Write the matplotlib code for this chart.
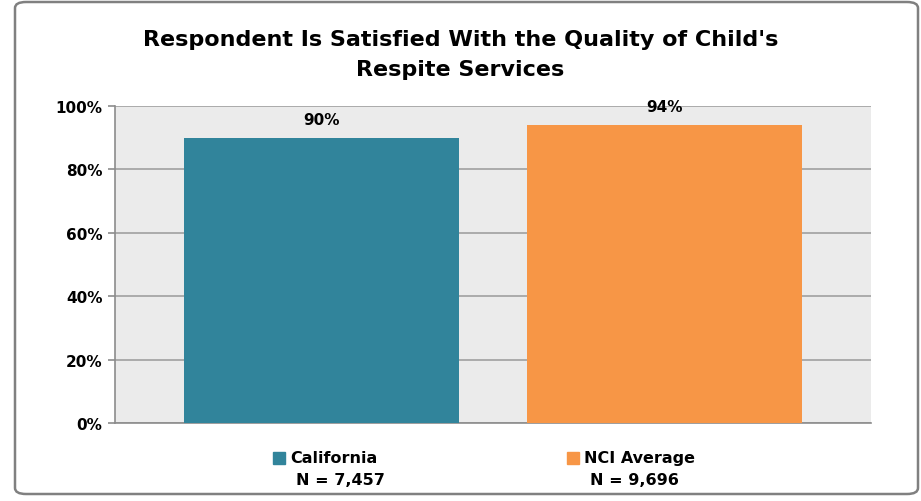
import matplotlib.pyplot as plt
from matplotlib.patches import FancyBboxPatch, Rectangle
from matplotlib.ticker import PercentFormatter

# Share of respondents satisfied with respite services
groups = ['California', 'NCI Average']
sample_sizes = ['N = 7,457', 'N = 9,696']
satisfied_pct = [90, 94]
bar_colors = ['#31849b', '#f79646']
y_ticks = [0, 20, 40, 60, 80, 100]

fig = plt.figure(figsize=(9.21, 5.02), dpi=100)
W, H = 921, 502

# rounded frame round the whole chart
frame = FancyBboxPatch((15 / W, 7 / H), 903 / W, 492 / H,
                       boxstyle='round,pad=0,rounding_size=0.012',
                       transform=fig.transFigure, fill=False,
                       edgecolor='#808080', linewidth=1.8)
fig.patches.append(frame)

ax = fig.add_axes([115 / W, 1 - 424 / H, 756 / W, 317 / H])
ax.set_facecolor('#ebebeb')

x = list(range(len(groups)))
bars = ax.bar(x, satisfied_pct, width=0.8, color=bar_colors, zorder=3)
for xi, v in zip(x, satisfied_pct):
    ax.annotate(f'{v}%', (xi, v), xytext=(0, 13), textcoords='offset points',
                ha='center', va='center', fontsize=11, fontweight='bold',
                zorder=4)

ax.set_xlim(-0.6, 1.6)
ax.set_ylim(0, 100)
ax.set_yticks(y_ticks)
ax.yaxis.set_major_formatter(PercentFormatter(decimals=0))
ax.set_xticks([])
ax.grid(axis='y', color='#a6a6a6', linewidth=1.3, zorder=1)
for side in ('top', 'right'):
    ax.spines[side].set_visible(False)
for side in ('left', 'bottom'):
    ax.spines[side].set_color('#8c8c8c')
    ax.spines[side].set_linewidth(1.2)
ax.tick_params(axis='y', length=5, width=1.2, color='#8c8c8c', pad=4,
               labelsize=11)
for lbl in ax.get_yticklabels():
    lbl.set_fontweight('bold')

fig.text(0.5, 1 - 40 / H, "Respondent Is Satisfied With the Quality of Child's",
         ha='center', va='center', fontsize=16, fontweight='bold')
fig.text(0.5, 1 - 70 / H, 'Respite Services', ha='center', va='center',
         fontsize=16, fontweight='bold')

# legend: colour square, group name and sample size underneath
legend_x = [273, 567]
for lx, name, n, c in zip(legend_x, groups, sample_sizes, bar_colors):
    fig.patches.append(Rectangle((lx / W, 1 - 465 / H), 12 / W, 12 / H,
                                 transform=fig.transFigure, color=c))
    fig.text((lx + 17) / W, 1 - 459 / H, name, ha='left', va='center',
             fontsize=11.5, fontweight='bold')
    fig.text((lx + 23) / W, 1 - 481 / H, n, ha='left', va='center',
             fontsize=11.5, fontweight='bold')

fig.savefig('out.png', dpi=100)
